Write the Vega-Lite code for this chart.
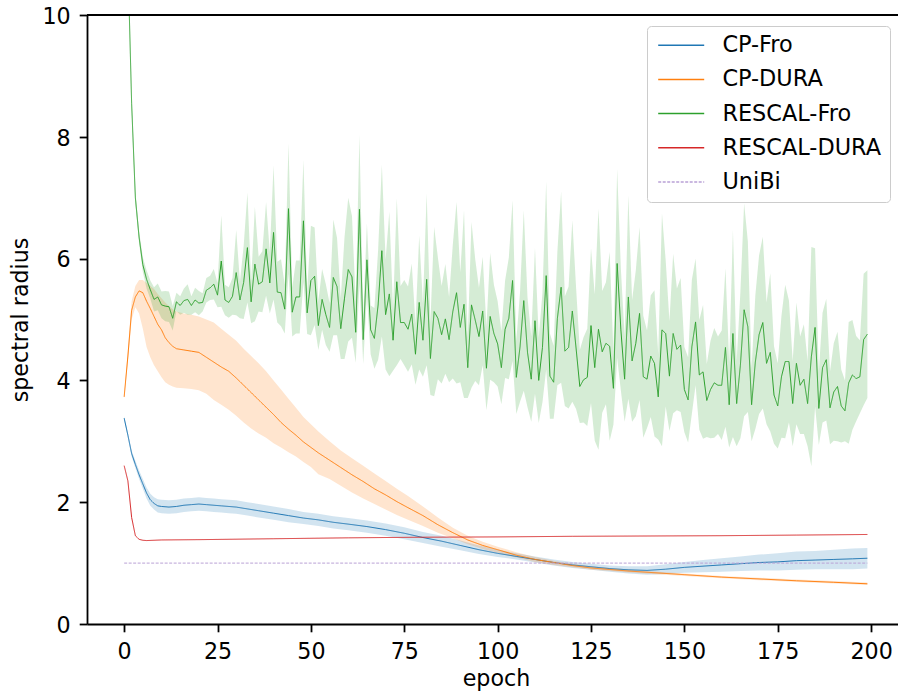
{
"$schema": "https://vega.github.io/schema/vega-lite/v6.json",
"width": 811, "height": 609,
"autosize": {"type": "none"},
"padding": {"left": 87, "top": 15, "right": 0, "bottom": 70},
"background": "white",
"config": {
  "view": {"stroke": null},
  "font": "DejaVu Sans",
  "axis": {"domainColor": "black", "domainWidth": 1.8, "tickColor": "black", "tickWidth": 1.8, "tickSize": 7.8, "labelFont": "DejaVu Sans", "labelFontSize": 22.2, "labelColor": "black", "titleFont": "DejaVu Sans", "titleFontSize": 22.2, "titleFontWeight": "normal", "titleColor": "black", "grid": false},
  "legend": {"labelFont": "DejaVu Sans", "labelFontSize": 22.4, "labelColor": "black", "padding": 8, "rowPadding": 11.2, "labelOffset": 45, "symbolSize": 400, "symbolStrokeWidth": 1.5, "fillColor": "rgba(255,255,255,0.8)", "strokeColor": "#cccccc", "cornerRadius": 4, "labelLimit": 400}
},
"datasets": {
"lines": [
{"s":"CP-Fro","e":0,"v":3.38,"lo":3.35,"hi":3.41},
{"s":"CP-Fro","e":1,"v":3.10,"lo":3.06,"hi":3.14},
{"s":"CP-Fro","e":2,"v":2.80,"lo":2.75,"hi":2.85},
{"s":"CP-Fro","e":3,"v":2.62,"lo":2.56,"hi":2.68},
{"s":"CP-Fro","e":4,"v":2.45,"lo":2.38,"hi":2.52},
{"s":"CP-Fro","e":5,"v":2.30,"lo":2.22,"hi":2.38},
{"s":"CP-Fro","e":6,"v":2.15,"lo":2.06,"hi":2.24},
{"s":"CP-Fro","e":7,"v":2.04,"lo":1.94,"hi":2.14},
{"s":"CP-Fro","e":8,"v":1.98,"lo":1.88,"hi":2.08},
{"s":"CP-Fro","e":9,"v":1.94,"lo":1.83,"hi":2.05},
{"s":"CP-Fro","e":10,"v":1.93,"lo":1.82,"hi":2.04},
{"s":"CP-Fro","e":12,"v":1.92,"lo":1.81,"hi":2.03},
{"s":"CP-Fro","e":14,"v":1.93,"lo":1.82,"hi":2.04},
{"s":"CP-Fro","e":16,"v":1.95,"lo":1.84,"hi":2.06},
{"s":"CP-Fro","e":18,"v":1.96,"lo":1.85,"hi":2.07},
{"s":"CP-Fro","e":20,"v":1.97,"lo":1.86,"hi":2.08},
{"s":"CP-Fro","e":22,"v":1.96,"lo":1.85,"hi":2.07},
{"s":"CP-Fro","e":24,"v":1.95,"lo":1.84,"hi":2.06},
{"s":"CP-Fro","e":26,"v":1.94,"lo":1.83,"hi":2.05},
{"s":"CP-Fro","e":28,"v":1.93,"lo":1.82,"hi":2.04},
{"s":"CP-Fro","e":30,"v":1.92,"lo":1.81,"hi":2.03},
{"s":"CP-Fro","e":33,"v":1.89,"lo":1.78,"hi":2.00},
{"s":"CP-Fro","e":36,"v":1.86,"lo":1.75,"hi":1.97},
{"s":"CP-Fro","e":40,"v":1.82,"lo":1.71,"hi":1.93},
{"s":"CP-Fro","e":44,"v":1.78,"lo":1.67,"hi":1.89},
{"s":"CP-Fro","e":48,"v":1.74,"lo":1.64,"hi":1.84},
{"s":"CP-Fro","e":52,"v":1.71,"lo":1.61,"hi":1.81},
{"s":"CP-Fro","e":56,"v":1.67,"lo":1.57,"hi":1.77},
{"s":"CP-Fro","e":60,"v":1.64,"lo":1.54,"hi":1.74},
{"s":"CP-Fro","e":65,"v":1.60,"lo":1.50,"hi":1.70},
{"s":"CP-Fro","e":70,"v":1.55,"lo":1.45,"hi":1.65},
{"s":"CP-Fro","e":75,"v":1.49,"lo":1.39,"hi":1.59},
{"s":"CP-Fro","e":80,"v":1.42,"lo":1.33,"hi":1.51},
{"s":"CP-Fro","e":85,"v":1.36,"lo":1.27,"hi":1.45},
{"s":"CP-Fro","e":90,"v":1.29,"lo":1.21,"hi":1.37},
{"s":"CP-Fro","e":95,"v":1.22,"lo":1.15,"hi":1.29},
{"s":"CP-Fro","e":100,"v":1.16,"lo":1.10,"hi":1.22},
{"s":"CP-Fro","e":105,"v":1.11,"lo":1.06,"hi":1.16},
{"s":"CP-Fro","e":110,"v":1.06,"lo":1.01,"hi":1.11},
{"s":"CP-Fro","e":115,"v":1.01,"lo":0.96,"hi":1.06},
{"s":"CP-Fro","e":120,"v":0.97,"lo":0.92,"hi":1.02},
{"s":"CP-Fro","e":125,"v":0.94,"lo":0.89,"hi":0.99},
{"s":"CP-Fro","e":130,"v":0.91,"lo":0.86,"hi":0.96},
{"s":"CP-Fro","e":135,"v":0.89,"lo":0.83,"hi":0.95},
{"s":"CP-Fro","e":140,"v":0.88,"lo":0.81,"hi":0.95},
{"s":"CP-Fro","e":145,"v":0.90,"lo":0.82,"hi":0.98},
{"s":"CP-Fro","e":150,"v":0.93,"lo":0.84,"hi":1.02},
{"s":"CP-Fro","e":155,"v":0.95,"lo":0.85,"hi":1.05},
{"s":"CP-Fro","e":160,"v":0.97,"lo":0.86,"hi":1.08},
{"s":"CP-Fro","e":165,"v":0.99,"lo":0.87,"hi":1.11},
{"s":"CP-Fro","e":170,"v":1.01,"lo":0.88,"hi":1.14},
{"s":"CP-Fro","e":175,"v":1.02,"lo":0.88,"hi":1.16},
{"s":"CP-Fro","e":180,"v":1.04,"lo":0.89,"hi":1.19},
{"s":"CP-Fro","e":185,"v":1.05,"lo":0.90,"hi":1.20},
{"s":"CP-Fro","e":190,"v":1.06,"lo":0.90,"hi":1.22},
{"s":"CP-Fro","e":195,"v":1.07,"lo":0.90,"hi":1.24},
{"s":"CP-Fro","e":199,"v":1.08,"lo":0.91,"hi":1.25},
{"s":"CP-DURA","e":0,"v":3.73,"lo":3.70,"hi":3.76},
{"s":"CP-DURA","e":1,"v":4.40,"lo":4.30,"hi":4.50},
{"s":"CP-DURA","e":2,"v":5.15,"lo":5.00,"hi":5.30},
{"s":"CP-DURA","e":3,"v":5.37,"lo":5.20,"hi":5.55},
{"s":"CP-DURA","e":4,"v":5.47,"lo":5.10,"hi":5.65},
{"s":"CP-DURA","e":5,"v":5.44,"lo":4.85,"hi":5.65},
{"s":"CP-DURA","e":6,"v":5.30,"lo":4.55,"hi":5.60},
{"s":"CP-DURA","e":7,"v":5.18,"lo":4.38,"hi":5.55},
{"s":"CP-DURA","e":8,"v":5.05,"lo":4.25,"hi":5.50},
{"s":"CP-DURA","e":9,"v":4.92,"lo":4.15,"hi":5.42},
{"s":"CP-DURA","e":10,"v":4.83,"lo":4.05,"hi":5.35},
{"s":"CP-DURA","e":11,"v":4.70,"lo":3.97,"hi":5.28},
{"s":"CP-DURA","e":12,"v":4.62,"lo":3.93,"hi":5.22},
{"s":"CP-DURA","e":13,"v":4.56,"lo":3.90,"hi":5.17},
{"s":"CP-DURA","e":14,"v":4.52,"lo":3.88,"hi":5.13},
{"s":"CP-DURA","e":16,"v":4.50,"lo":3.87,"hi":5.10},
{"s":"CP-DURA","e":18,"v":4.48,"lo":3.86,"hi":5.08},
{"s":"CP-DURA","e":20,"v":4.46,"lo":3.84,"hi":5.05},
{"s":"CP-DURA","e":22,"v":4.38,"lo":3.78,"hi":5.00},
{"s":"CP-DURA","e":24,"v":4.30,"lo":3.68,"hi":4.95},
{"s":"CP-DURA","e":26,"v":4.22,"lo":3.60,"hi":4.85},
{"s":"CP-DURA","e":28,"v":4.15,"lo":3.52,"hi":4.75},
{"s":"CP-DURA","e":30,"v":4.04,"lo":3.42,"hi":4.65},
{"s":"CP-DURA","e":32,"v":3.92,"lo":3.31,"hi":4.52},
{"s":"CP-DURA","e":34,"v":3.80,"lo":3.21,"hi":4.40},
{"s":"CP-DURA","e":36,"v":3.68,"lo":3.13,"hi":4.28},
{"s":"CP-DURA","e":38,"v":3.56,"lo":3.06,"hi":4.15},
{"s":"CP-DURA","e":40,"v":3.44,"lo":2.97,"hi":4.00},
{"s":"CP-DURA","e":42,"v":3.31,"lo":2.90,"hi":3.85},
{"s":"CP-DURA","e":44,"v":3.20,"lo":2.82,"hi":3.70},
{"s":"CP-DURA","e":46,"v":3.10,"lo":2.75,"hi":3.55},
{"s":"CP-DURA","e":48,"v":2.99,"lo":2.66,"hi":3.40},
{"s":"CP-DURA","e":50,"v":2.90,"lo":2.58,"hi":3.28},
{"s":"CP-DURA","e":52,"v":2.81,"lo":2.46,"hi":3.16},
{"s":"CP-DURA","e":55,"v":2.69,"lo":2.38,"hi":3.00},
{"s":"CP-DURA","e":58,"v":2.57,"lo":2.27,"hi":2.85},
{"s":"CP-DURA","e":61,"v":2.45,"lo":2.16,"hi":2.72},
{"s":"CP-DURA","e":64,"v":2.34,"lo":2.06,"hi":2.60},
{"s":"CP-DURA","e":67,"v":2.22,"lo":1.97,"hi":2.47},
{"s":"CP-DURA","e":70,"v":2.12,"lo":1.88,"hi":2.35},
{"s":"CP-DURA","e":73,"v":2.01,"lo":1.79,"hi":2.22},
{"s":"CP-DURA","e":76,"v":1.91,"lo":1.71,"hi":2.10},
{"s":"CP-DURA","e":80,"v":1.78,"lo":1.61,"hi":1.93},
{"s":"CP-DURA","e":84,"v":1.63,"lo":1.50,"hi":1.75},
{"s":"CP-DURA","e":88,"v":1.50,"lo":1.41,"hi":1.58},
{"s":"CP-DURA","e":92,"v":1.38,"lo":1.31,"hi":1.45},
{"s":"CP-DURA","e":96,"v":1.29,"lo":1.23,"hi":1.35},
{"s":"CP-DURA","e":100,"v":1.22,"lo":1.17,"hi":1.27},
{"s":"CP-DURA","e":105,"v":1.13,"lo":1.09,"hi":1.18},
{"s":"CP-DURA","e":110,"v":1.06,"lo":1.02,"hi":1.10},
{"s":"CP-DURA","e":115,"v":1.01,"lo":0.97,"hi":1.04},
{"s":"CP-DURA","e":120,"v":0.96,"lo":0.93,"hi":0.99},
{"s":"CP-DURA","e":125,"v":0.92,"lo":0.89,"hi":0.95},
{"s":"CP-DURA","e":130,"v":0.895,"lo":0.87,"hi":0.92},
{"s":"CP-DURA","e":135,"v":0.87,"lo":0.845,"hi":0.895},
{"s":"CP-DURA","e":140,"v":0.85,"lo":0.825,"hi":0.87},
{"s":"CP-DURA","e":150,"v":0.81,"lo":0.79,"hi":0.83},
{"s":"CP-DURA","e":160,"v":0.77,"lo":0.75,"hi":0.79},
{"s":"CP-DURA","e":170,"v":0.74,"lo":0.72,"hi":0.76},
{"s":"CP-DURA","e":180,"v":0.71,"lo":0.69,"hi":0.73},
{"s":"CP-DURA","e":190,"v":0.685,"lo":0.665,"hi":0.705},
{"s":"CP-DURA","e":199,"v":0.66,"lo":0.64,"hi":0.68},
{"s":"RESCAL-Fro","e":0,"v":12.5,"sd":0.05},
{"s":"RESCAL-Fro","e":1,"v":10.9,"sd":0.1},
{"s":"RESCAL-Fro","e":2,"v":8.55,"sd":0.1},
{"s":"RESCAL-Fro","e":3,"v":7.0,"sd":0.1},
{"s":"RESCAL-Fro","e":4,"v":6.35,"sd":0.1},
{"s":"RESCAL-Fro","e":5,"v":5.9,"sd":0.12},
{"s":"RESCAL-Fro","e":6,"v":5.66,"sd":0.15},
{"s":"RESCAL-Fro","e":7,"v":5.49,"sd":0.15},
{"s":"RESCAL-Fro","e":8,"v":5.33,"sd":0.2},
{"s":"RESCAL-Fro","e":9,"v":5.37,"sd":0.22},
{"s":"RESCAL-Fro","e":10,"v":5.24,"sd":0.22},
{"s":"RESCAL-Fro","e":11,"v":5.22,"sd":0.25},
{"s":"RESCAL-Fro","e":12,"v":5.21,"sd":0.25},
{"s":"RESCAL-Fro","e":13,"v":5.02,"sd":0.2},
{"s":"RESCAL-Fro","e":14,"v":5.29,"sd":0.15},
{"s":"RESCAL-Fro","e":15,"v":5.23,"sd":0.15},
{"s":"RESCAL-Fro","e":16,"v":5.31,"sd":0.2},
{"s":"RESCAL-Fro","e":17,"v":5.33,"sd":0.25},
{"s":"RESCAL-Fro","e":18,"v":5.23,"sd":0.15},
{"s":"RESCAL-Fro","e":19,"v":5.32,"sd":0.2},
{"s":"RESCAL-Fro","e":20,"v":5.27,"sd":0.2},
{"s":"RESCAL-Fro","e":21,"v":5.28,"sd":0.15},
{"s":"RESCAL-Fro","e":22,"v":5.48,"sd":0.2},
{"s":"RESCAL-Fro","e":23,"v":5.52,"sd":0.2},
{"s":"RESCAL-Fro","e":24,"v":5.58,"sd":0.25},
{"s":"RESCAL-Fro","e":25,"v":5.40,"sd":0.2},
{"s":"RESCAL-Fro","e":26,"v":5.96,"sd":0.75},
{"s":"RESCAL-Fro","e":27,"v":5.32,"sd":0.25},
{"s":"RESCAL-Fro","e":28,"v":5.28,"sd":0.25},
{"s":"RESCAL-Fro","e":29,"v":5.38,"sd":0.3},
{"s":"RESCAL-Fro","e":30,"v":5.77,"sd":0.7},
{"s":"RESCAL-Fro","e":31,"v":5.32,"sd":0.3},
{"s":"RESCAL-Fro","e":32,"v":5.61,"sd":0.6},
{"s":"RESCAL-Fro","e":33,"v":6.18,"sd":0.9},
{"s":"RESCAL-Fro","e":34,"v":5.29,"sd":0.35},
{"s":"RESCAL-Fro","e":35,"v":5.91,"sd":0.94},
{"s":"RESCAL-Fro","e":36,"v":5.58,"sd":0.45},
{"s":"RESCAL-Fro","e":37,"v":5.62,"sd":0.5},
{"s":"RESCAL-Fro","e":38,"v":6.16,"sd":0.77},
{"s":"RESCAL-Fro","e":39,"v":5.60,"sd":0.5},
{"s":"RESCAL-Fro","e":40,"v":6.43,"sd":1.1},
{"s":"RESCAL-Fro","e":41,"v":5.45,"sd":0.5},
{"s":"RESCAL-Fro","e":42,"v":5.44,"sd":0.55},
{"s":"RESCAL-Fro","e":43,"v":5.17,"sd":0.4},
{"s":"RESCAL-Fro","e":44,"v":6.82,"sd":1.07},
{"s":"RESCAL-Fro","e":45,"v":5.12,"sd":0.4},
{"s":"RESCAL-Fro","e":46,"v":5.37,"sd":0.6},
{"s":"RESCAL-Fro","e":47,"v":5.37,"sd":0.6},
{"s":"RESCAL-Fro","e":48,"v":6.62,"sd":1.0},
{"s":"RESCAL-Fro","e":49,"v":5.11,"sd":0.35},
{"s":"RESCAL-Fro","e":50,"v":5.64,"sd":0.9},
{"s":"RESCAL-Fro","e":51,"v":5.71,"sd":0.8},
{"s":"RESCAL-Fro","e":52,"v":4.90,"sd":0.4},
{"s":"RESCAL-Fro","e":53,"v":5.33,"sd":0.5},
{"s":"RESCAL-Fro","e":54,"v":5.08,"sd":0.5},
{"s":"RESCAL-Fro","e":55,"v":4.87,"sd":0.4},
{"s":"RESCAL-Fro","e":56,"v":5.69,"sd":0.95},
{"s":"RESCAL-Fro","e":57,"v":5.54,"sd":0.8},
{"s":"RESCAL-Fro","e":58,"v":4.85,"sd":0.5},
{"s":"RESCAL-Fro","e":59,"v":5.35,"sd":1.0},
{"s":"RESCAL-Fro","e":60,"v":5.82,"sd":1.18},
{"s":"RESCAL-Fro","e":61,"v":5.70,"sd":1.0},
{"s":"RESCAL-Fro","e":62,"v":4.79,"sd":0.5},
{"s":"RESCAL-Fro","e":63,"v":6.81,"sd":1.22},
{"s":"RESCAL-Fro","e":64,"v":4.67,"sd":0.4},
{"s":"RESCAL-Fro","e":65,"v":5.98,"sd":0.6},
{"s":"RESCAL-Fro","e":66,"v":4.83,"sd":0.4},
{"s":"RESCAL-Fro","e":67,"v":4.69,"sd":0.5},
{"s":"RESCAL-Fro","e":68,"v":5.24,"sd":0.9},
{"s":"RESCAL-Fro","e":69,"v":6.13,"sd":1.41},
{"s":"RESCAL-Fro","e":70,"v":5.08,"sd":0.9},
{"s":"RESCAL-Fro","e":71,"v":5.42,"sd":1.35},
{"s":"RESCAL-Fro","e":72,"v":4.66,"sd":0.5},
{"s":"RESCAL-Fro","e":73,"v":5.62,"sd":1.37},
{"s":"RESCAL-Fro","e":74,"v":4.95,"sd":0.6},
{"s":"RESCAL-Fro","e":75,"v":4.95,"sd":0.7},
{"s":"RESCAL-Fro","e":76,"v":4.84,"sd":0.7},
{"s":"RESCAL-Fro","e":77,"v":5.09,"sd":0.83},
{"s":"RESCAL-Fro","e":78,"v":4.43,"sd":0.5},
{"s":"RESCAL-Fro","e":79,"v":5.28,"sd":1.1},
{"s":"RESCAL-Fro","e":80,"v":4.66,"sd":0.6},
{"s":"RESCAL-Fro","e":81,"v":5.66,"sd":1.41},
{"s":"RESCAL-Fro","e":82,"v":4.36,"sd":0.6},
{"s":"RESCAL-Fro","e":83,"v":5.13,"sd":1.39},
{"s":"RESCAL-Fro","e":84,"v":5.02,"sd":1.0},
{"s":"RESCAL-Fro","e":85,"v":4.75,"sd":0.8},
{"s":"RESCAL-Fro","e":86,"v":5.01,"sd":0.9},
{"s":"RESCAL-Fro","e":87,"v":4.67,"sd":0.7},
{"s":"RESCAL-Fro","e":88,"v":5.13,"sd":1.1},
{"s":"RESCAL-Fro","e":89,"v":5.44,"sd":1.49},
{"s":"RESCAL-Fro","e":90,"v":4.87,"sd":0.9},
{"s":"RESCAL-Fro","e":91,"v":5.25,"sd":1.54},
{"s":"RESCAL-Fro","e":92,"v":4.21,"sd":0.5},
{"s":"RESCAL-Fro","e":93,"v":5.24,"sd":1.36},
{"s":"RESCAL-Fro","e":94,"v":4.99,"sd":1.0},
{"s":"RESCAL-Fro","e":95,"v":4.72,"sd":0.8},
{"s":"RESCAL-Fro","e":96,"v":5.14,"sd":0.89},
{"s":"RESCAL-Fro","e":97,"v":4.20,"sd":0.69},
{"s":"RESCAL-Fro","e":98,"v":5.05,"sd":1.04},
{"s":"RESCAL-Fro","e":99,"v":4.77,"sd":0.8},
{"s":"RESCAL-Fro","e":100,"v":4.60,"sd":0.7},
{"s":"RESCAL-Fro","e":101,"v":4.21,"sd":0.6},
{"s":"RESCAL-Fro","e":102,"v":4.84,"sd":0.8},
{"s":"RESCAL-Fro","e":103,"v":5.02,"sd":1.0},
{"s":"RESCAL-Fro","e":104,"v":5.64,"sd":1.32},
{"s":"RESCAL-Fro","e":105,"v":4.05,"sd":0.6},
{"s":"RESCAL-Fro","e":106,"v":4.55,"sd":0.9},
{"s":"RESCAL-Fro","e":107,"v":5.31,"sd":1.48},
{"s":"RESCAL-Fro","e":108,"v":4.46,"sd":0.9},
{"s":"RESCAL-Fro","e":109,"v":4.02,"sd":0.7},
{"s":"RESCAL-Fro","e":110,"v":4.98,"sd":1.2},
{"s":"RESCAL-Fro","e":111,"v":4.00,"sd":0.7},
{"s":"RESCAL-Fro","e":112,"v":4.54,"sd":0.9},
{"s":"RESCAL-Fro","e":113,"v":5.72,"sd":1.54},
{"s":"RESCAL-Fro","e":114,"v":4.07,"sd":0.7},
{"s":"RESCAL-Fro","e":115,"v":3.97,"sd":0.6},
{"s":"RESCAL-Fro","e":116,"v":5.02,"sd":1.1},
{"s":"RESCAL-Fro","e":117,"v":5.53,"sd":1.57},
{"s":"RESCAL-Fro","e":118,"v":4.48,"sd":0.9},
{"s":"RESCAL-Fro","e":119,"v":4.54,"sd":1.0},
{"s":"RESCAL-Fro","e":120,"v":5.14,"sd":1.49},
{"s":"RESCAL-Fro","e":121,"v":4.53,"sd":1.0},
{"s":"RESCAL-Fro","e":122,"v":3.90,"sd":0.6},
{"s":"RESCAL-Fro","e":123,"v":4.01,"sd":0.7},
{"s":"RESCAL-Fro","e":124,"v":4.05,"sd":0.8},
{"s":"RESCAL-Fro","e":125,"v":4.90,"sd":1.27},
{"s":"RESCAL-Fro","e":126,"v":4.21,"sd":1.2},
{"s":"RESCAL-Fro","e":127,"v":4.84,"sd":1.98},
{"s":"RESCAL-Fro","e":128,"v":4.47,"sd":1.0},
{"s":"RESCAL-Fro","e":129,"v":4.61,"sd":1.0},
{"s":"RESCAL-Fro","e":130,"v":4.56,"sd":1.55},
{"s":"RESCAL-Fro","e":131,"v":3.87,"sd":0.6},
{"s":"RESCAL-Fro","e":132,"v":5.92,"sd":1.55},
{"s":"RESCAL-Fro","e":133,"v":4.83,"sd":1.0},
{"s":"RESCAL-Fro","e":134,"v":4.02,"sd":0.7},
{"s":"RESCAL-Fro","e":135,"v":5.37,"sd":1.67},
{"s":"RESCAL-Fro","e":136,"v":4.32,"sd":1.0},
{"s":"RESCAL-Fro","e":137,"v":4.61,"sd":1.2},
{"s":"RESCAL-Fro","e":138,"v":5.10,"sd":1.42},
{"s":"RESCAL-Fro","e":139,"v":4.06,"sd":1.0},
{"s":"RESCAL-Fro","e":140,"v":4.02,"sd":0.8},
{"s":"RESCAL-Fro","e":141,"v":4.40,"sd":1.0},
{"s":"RESCAL-Fro","e":142,"v":4.28,"sd":1.2},
{"s":"RESCAL-Fro","e":143,"v":3.73,"sd":0.7},
{"s":"RESCAL-Fro","e":144,"v":4.83,"sd":1.91},
{"s":"RESCAL-Fro","e":145,"v":4.77,"sd":1.2},
{"s":"RESCAL-Fro","e":146,"v":4.07,"sd":0.9},
{"s":"RESCAL-Fro","e":147,"v":4.77,"sd":1.31},
{"s":"RESCAL-Fro","e":148,"v":4.51,"sd":1.0},
{"s":"RESCAL-Fro","e":149,"v":4.58,"sd":1.1},
{"s":"RESCAL-Fro","e":150,"v":3.85,"sd":0.7},
{"s":"RESCAL-Fro","e":151,"v":3.68,"sd":0.7},
{"s":"RESCAL-Fro","e":152,"v":4.55,"sd":1.1},
{"s":"RESCAL-Fro","e":153,"v":4.96,"sd":1.04},
{"s":"RESCAL-Fro","e":154,"v":4.09,"sd":0.9},
{"s":"RESCAL-Fro","e":155,"v":4.14,"sd":1.1},
{"s":"RESCAL-Fro","e":156,"v":3.67,"sd":0.6},
{"s":"RESCAL-Fro","e":157,"v":3.85,"sd":0.8},
{"s":"RESCAL-Fro","e":158,"v":3.96,"sd":0.9},
{"s":"RESCAL-Fro","e":159,"v":3.92,"sd":0.8},
{"s":"RESCAL-Fro","e":160,"v":3.92,"sd":0.9},
{"s":"RESCAL-Fro","e":161,"v":4.54,"sd":1.3},
{"s":"RESCAL-Fro","e":162,"v":3.60,"sd":0.7},
{"s":"RESCAL-Fro","e":163,"v":4.77,"sd":1.7},
{"s":"RESCAL-Fro","e":164,"v":3.62,"sd":0.7},
{"s":"RESCAL-Fro","e":165,"v":4.25,"sd":1.2},
{"s":"RESCAL-Fro","e":166,"v":5.16,"sd":1.75},
{"s":"RESCAL-Fro","e":167,"v":4.88,"sd":1.4},
{"s":"RESCAL-Fro","e":168,"v":3.60,"sd":0.6},
{"s":"RESCAL-Fro","e":169,"v":4.30,"sd":1.1},
{"s":"RESCAL-Fro","e":170,"v":4.75,"sd":1.3},
{"s":"RESCAL-Fro","e":171,"v":4.95,"sd":1.41},
{"s":"RESCAL-Fro","e":172,"v":4.28,"sd":1.0},
{"s":"RESCAL-Fro","e":173,"v":4.46,"sd":1.3},
{"s":"RESCAL-Fro","e":174,"v":3.76,"sd":0.8},
{"s":"RESCAL-Fro","e":175,"v":3.58,"sd":0.7},
{"s":"RESCAL-Fro","e":176,"v":4.06,"sd":1.0},
{"s":"RESCAL-Fro","e":177,"v":4.31,"sd":1.26},
{"s":"RESCAL-Fro","e":178,"v":4.31,"sd":1.0},
{"s":"RESCAL-Fro","e":179,"v":3.62,"sd":0.7},
{"s":"RESCAL-Fro","e":180,"v":4.28,"sd":1.0},
{"s":"RESCAL-Fro","e":181,"v":3.92,"sd":0.8},
{"s":"RESCAL-Fro","e":182,"v":4.02,"sd":0.9},
{"s":"RESCAL-Fro","e":183,"v":3.62,"sd":0.7},
{"s":"RESCAL-Fro","e":184,"v":4.39,"sd":1.8},
{"s":"RESCAL-Fro","e":185,"v":4.87,"sd":1.3},
{"s":"RESCAL-Fro","e":186,"v":3.54,"sd":0.6},
{"s":"RESCAL-Fro","e":187,"v":4.21,"sd":0.9},
{"s":"RESCAL-Fro","e":188,"v":4.34,"sd":1.0},
{"s":"RESCAL-Fro","e":189,"v":3.55,"sd":0.6},
{"s":"RESCAL-Fro","e":190,"v":3.81,"sd":0.8},
{"s":"RESCAL-Fro","e":191,"v":3.90,"sd":0.9},
{"s":"RESCAL-Fro","e":192,"v":3.58,"sd":0.6},
{"s":"RESCAL-Fro","e":193,"v":3.50,"sd":0.5},
{"s":"RESCAL-Fro","e":194,"v":3.96,"sd":1.0},
{"s":"RESCAL-Fro","e":195,"v":4.09,"sd":0.9},
{"s":"RESCAL-Fro","e":196,"v":4.03,"sd":0.7},
{"s":"RESCAL-Fro","e":197,"v":4.06,"sd":0.6},
{"s":"RESCAL-Fro","e":198,"v":4.67,"sd":1.08},
{"s":"RESCAL-Fro","e":199,"v":4.76,"sd":1.05},
{"s":"RESCAL-DURA","e":0,"v":2.6},
{"s":"RESCAL-DURA","e":1,"v":2.35},
{"s":"RESCAL-DURA","e":2,"v":1.75},
{"s":"RESCAL-DURA","e":3,"v":1.45},
{"s":"RESCAL-DURA","e":4,"v":1.39},
{"s":"RESCAL-DURA","e":5,"v":1.375},
{"s":"RESCAL-DURA","e":6,"v":1.37},
{"s":"RESCAL-DURA","e":10,"v":1.38},
{"s":"RESCAL-DURA","e":20,"v":1.385},
{"s":"RESCAL-DURA","e":40,"v":1.40},
{"s":"RESCAL-DURA","e":60,"v":1.415},
{"s":"RESCAL-DURA","e":80,"v":1.425},
{"s":"RESCAL-DURA","e":100,"v":1.43},
{"s":"RESCAL-DURA","e":120,"v":1.44},
{"s":"RESCAL-DURA","e":140,"v":1.445},
{"s":"RESCAL-DURA","e":160,"v":1.45},
{"s":"RESCAL-DURA","e":170,"v":1.455},
{"s":"RESCAL-DURA","e":180,"v":1.46},
{"s":"RESCAL-DURA","e":190,"v":1.465},
{"s":"RESCAL-DURA","e":199,"v":1.47},
{"s":"UniBi","e":0,"v":1.0},
{"s":"UniBi","e":199,"v":1.0}
],
"frame": [{"top": 10}]
},
"layer": [
  {
    "data": {"name": "lines"},
    "transform": [{"filter": "datum.s === 'CP-Fro'"}],
    "mark": {"type": "area", "color": "#1f77b4", "opacity": 0.2, "clip": true},
    "encoding": {
      "x": {"field": "e", "type": "quantitative", "title": "epoch", "scale": {"domain": [-9.95, 207.2], "nice": false, "zero": false}},
      "y": {"field": "lo", "type": "quantitative", "title": "spectral radius", "scale": {"domain": [0, 10], "nice": false, "zero": false}},
      "y2": {"field": "hi"}
    }
  },
  {
    "data": {"name": "lines"},
    "transform": [{"filter": "datum.s === 'CP-DURA'"}],
    "mark": {"type": "area", "color": "#ff7f0e", "opacity": 0.2, "clip": true},
    "encoding": {
      "x": {"field": "e", "type": "quantitative", "title": "epoch"},
      "y": {"field": "lo", "type": "quantitative", "title": "spectral radius"},
      "y2": {"field": "hi"}
    }
  },
  {
    "data": {"name": "lines"},
    "transform": [{"filter": "datum.s === 'RESCAL-Fro' && datum.e >= 2"}],
    "mark": {"type": "errorband", "color": "#2ca02c", "opacity": 0.2},
    "encoding": {
      "x": {"field": "e", "type": "quantitative", "title": "epoch"},
      "y": {"field": "v", "type": "quantitative", "title": "spectral radius"},
      "yError": {"field": "sd"}
    }
  },
  {
    "data": {"name": "lines"},
    "mark": {"type": "line", "strokeWidth": 1, "clip": true},
    "encoding": {
      "x": {"field": "e", "type": "quantitative", "title": "epoch",
            "axis": {"values": [0, 25, 50, 75, 100, 125, 150, 175, 200], "format": "d", "titleX": 409, "titleY": 61, "titleBaseline": "alphabetic", "labelPadding": 8.7, "labelFlush": false, "labelOverlap": false}},
      "y": {"field": "v", "type": "quantitative", "title": "spectral radius",
            "axis": {"values": [0, 2, 4, 6, 8, 10], "format": "d", "titleX": -60, "titleY": 304.5, "titleAngle": 270, "titleBaseline": "alphabetic", "labelPadding": 9, "labelOffset": 1.3, "labelFlush": false, "labelOverlap": false}},
      "color": {"field": "s", "type": "nominal",
                "scale": {"domain": ["CP-Fro", "CP-DURA", "RESCAL-Fro", "RESCAL-DURA", "UniBi"], "range": ["#1f77b4", "#ff7f0e", "#2ca02c", "#d62728", "#b9a1d6"]},
                "legend": {"title": null, "orient": "none", "legendX": 560, "legendY": 11, "symbolType": "M-0.8,0H3.8"}},
      "strokeDash": {"field": "s", "type": "nominal",
                "scale": {"domain": ["CP-Fro", "CP-DURA", "RESCAL-Fro", "RESCAL-DURA", "UniBi"], "range": [[1, 0], [1, 0], [1, 0], [1, 0], [3, 1.5]]},
                "legend": {"title": null, "orient": "none", "legendX": 560, "legendY": 11, "symbolType": "M-0.8,0H3.8"}}
    }
  },
  {
    "data": {"name": "frame"},
    "mark": {"type": "rule", "color": "black", "strokeWidth": 1.8},
    "encoding": {"y": {"field": "top", "type": "quantitative", "title": "spectral radius"}}
  }
]
}
